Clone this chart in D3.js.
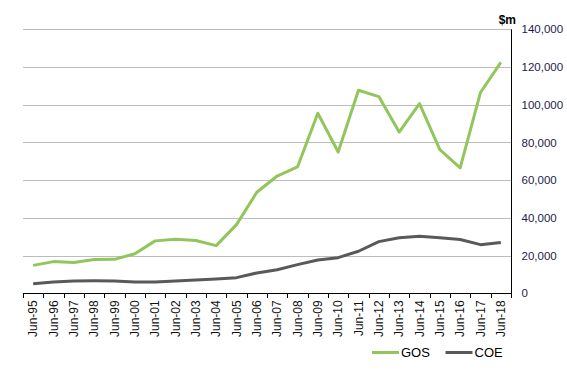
<!DOCTYPE html>
<html>
<head>
<meta charset="utf-8">
<script src="https://cdn.jsdelivr.net/npm/d3@7"></script>
<style>
  body { margin: 0; background: #fff; }
  svg { font-family: "Liberation Sans", Arial, sans-serif; }
</style>
</head>
<body>
<div id="chart"></div>
<script>
const categories = ["Jun-95","Jun-96","Jun-97","Jun-98","Jun-99","Jun-00","Jun-01","Jun-02","Jun-03","Jun-04",
  "Jun-05","Jun-06","Jun-07","Jun-08","Jun-09","Jun-10","Jun-11","Jun-12","Jun-13","Jun-14",
  "Jun-15","Jun-16","Jun-17","Jun-18"];
const gos = [14800, 16800, 16300, 17900, 18000, 21000, 27800, 28600, 28000, 25300,
  36400, 53600, 62200, 67000, 95500, 74900, 107700, 104300, 85500, 100600,
  76200, 66500, 106500, 122500];
const coe = [5100, 6000, 6500, 6600, 6500, 6000, 6000, 6500, 7000, 7600,
  8300, 10800, 12500, 15200, 17700, 18900, 22300, 27400, 29500, 30200,
  29500, 28500, 25800, 26900];
const yTicks = [0, 20000, 40000, 60000, 80000, 100000, 120000, 140000];
const seriesNames = ["GOS", "COE"];
const seriesColors = ["#92c55c", "#595959"];

const width = 567, height = 378;
const plotLeft = 23, plotRight = 511, plotTop = 29.3, plotBottom = 293.3;

const svg = d3.select("#chart").append("svg")
  .attr("width", width)
  .attr("height", height);

const x = d3.scaleBand()
  .domain(categories)
  .range([plotLeft, plotRight])
  .padding(0);

const y = d3.scaleLinear()
  .domain([0, 140000])
  .range([plotBottom, plotTop]);

// gridlines
svg.append("g")
  .selectAll("line")
  .data(yTicks.filter(d => d > 0))
  .join("line")
  .attr("x1", plotLeft)
  .attr("x2", plotRight)
  .attr("y1", d => Math.round(y(d)) + 0.5)
  .attr("y2", d => Math.round(y(d)) + 0.5)
  .attr("stroke", "#bcbcbc")
  .attr("stroke-width", 1);

// right axis
const yAxis = svg.append("g")
  .attr("transform", `translate(${Math.round(plotRight) + 0.5},0)`)
  .call(d3.axisRight(y).tickValues(yTicks).tickFormat(d3.format(",")).tickSize(0).tickPadding(10));
yAxis.select(".domain").attr("stroke", "#000").attr("d", `M0,${y(140000)}V${y(0)}`);
yAxis.selectAll("text")
  .attr("font-size", "11.5px")
  .attr("font-family", "Liberation Sans, Arial, sans-serif")
  .attr("fill", "#1c1d4a");

// bottom axis with ticks at category boundaries
const xAxisG = svg.append("g");
xAxisG.append("line")
  .attr("x1", plotLeft)
  .attr("x2", plotRight + 0.5)
  .attr("y1", Math.round(plotBottom) + 0.5)
  .attr("y2", Math.round(plotBottom) + 0.5)
  .attr("stroke", "#000");
xAxisG.selectAll(".tick")
  .data(d3.range(categories.length + 1))
  .join("line")
  .attr("class", "tick")
  .attr("x1", i => Math.round(plotLeft + i * x.bandwidth()) + 0.5)
  .attr("x2", i => Math.round(plotLeft + i * x.bandwidth()) + 0.5)
  .attr("y1", Math.round(plotBottom))
  .attr("y2", Math.round(plotBottom) + 5)
  .attr("stroke", "#000");
xAxisG.selectAll(".lbl")
  .data(categories)
  .join("text")
  .attr("class", "lbl")
  .attr("transform", d => `translate(${x(d) + x.bandwidth() / 2},${plotBottom + 7}) rotate(-90)`)
  .attr("text-anchor", "end")
  .attr("dy", "0.35em")
  .attr("font-size", "12px")
  .attr("fill", "#111")
  .text(d => d);

// unit label
svg.append("text")
  .attr("x", 516)
  .attr("y", 24)
  .attr("text-anchor", "end")
  .attr("font-size", "12px")
  .attr("font-weight", "bold")
  .attr("fill", "#000")
  .text("$m");

// lines
const line = d3.line()
  .x((d, i) => x(categories[i]) + x.bandwidth() / 2)
  .y(d => y(d));

[gos, coe].forEach((vals, k) => {
  svg.append("path")
    .datum(vals)
    .attr("fill", "none")
    .attr("stroke", seriesColors[k])
    .attr("stroke-width", 3)
    .attr("stroke-linejoin", "round")
    .attr("d", line);
});

// legend
const legend = svg.append("g")
  .selectAll("g")
  .data(seriesNames)
  .join("g")
  .attr("transform", (d, i) => `translate(${372 + i * 73.5},352.5)`);
legend.append("line")
  .attr("x1", 0)
  .attr("x2", 27)
  .attr("stroke", (d, i) => seriesColors[i])
  .attr("stroke-width", 3);
legend.append("text")
  .attr("x", 29)
  .attr("dy", "0.35em")
  .attr("font-size", "13px")
  .attr("fill", "#000")
  .text(d => d);
</script>
</body>
</html>
